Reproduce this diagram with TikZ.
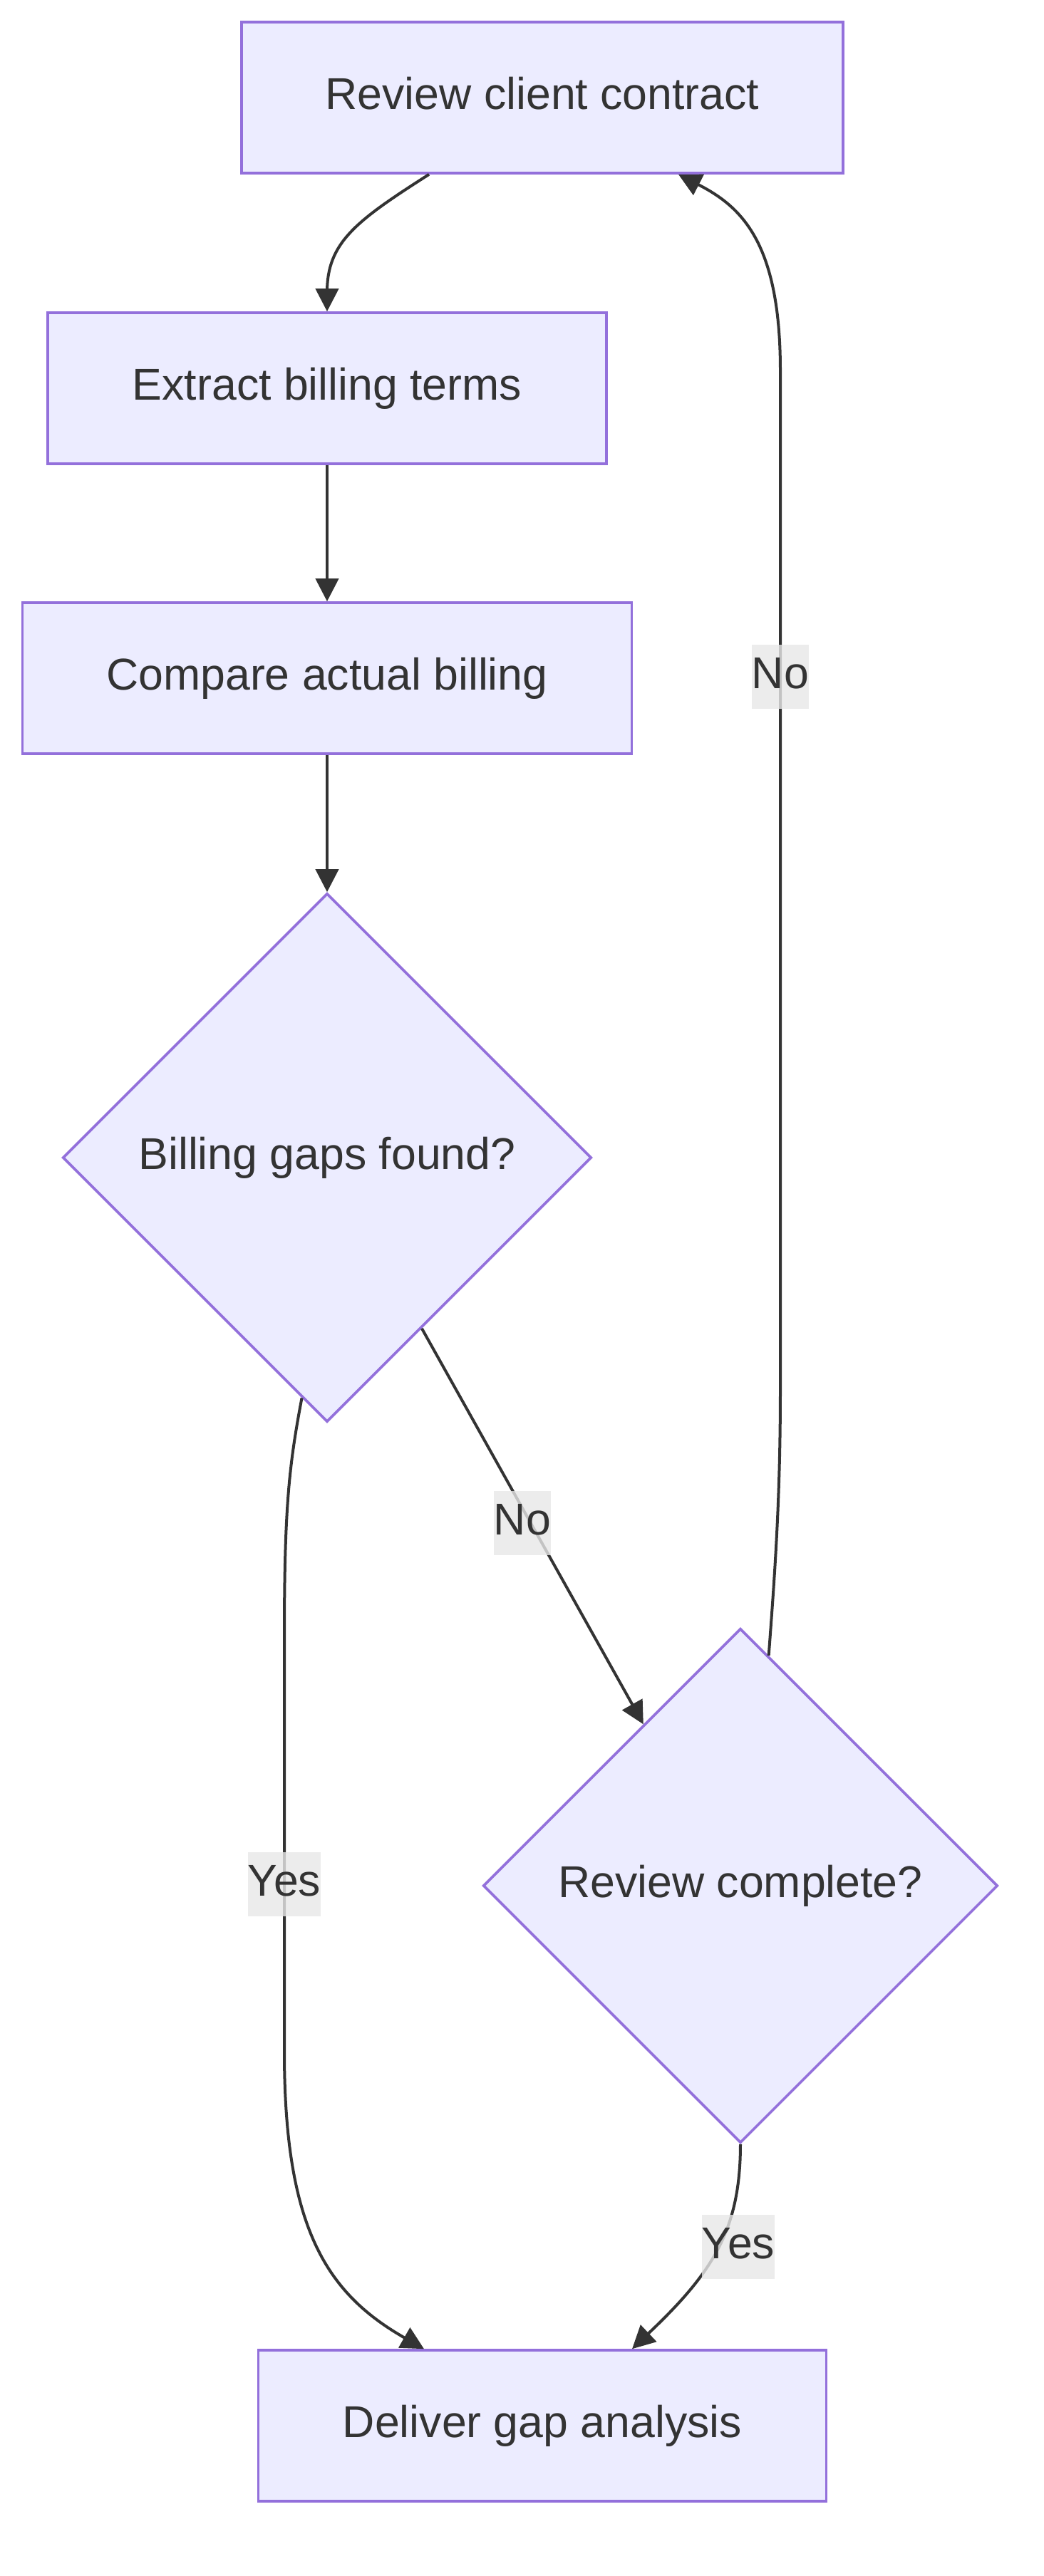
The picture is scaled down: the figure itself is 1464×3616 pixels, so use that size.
\documentclass[tikz,border=0pt]{standalone}
\usepackage{fontspec}
\setmainfont{Liberation Sans}
\usetikzlibrary{shapes.geometric,arrows.meta,calc}
\definecolor{nodefill}{HTML}{ECECFF}
\definecolor{nodeline}{HTML}{9370DB}
\definecolor{ink}{HTML}{333333}
\definecolor{lblbg}{HTML}{E8E8E8}
\begin{document}
\begin{tikzpicture}[x=0.5pt,y=-0.5pt,
  txt/.style={text=ink, font=\fontsize{31.3pt}{37pt}\selectfont, text height=22.5pt, text depth=6.5pt},
  box/.style={txt, rectangle, draw=nodeline, fill=nodefill, line width=1.8pt, minimum height=106pt, inner sep=0pt},
  decision/.style={txt, diamond, aspect=1, draw=nodeline, fill=nodefill, line width=1.8pt, inner sep=0pt},
  edge/.style={draw=ink, line width=2pt, -{Triangle[length=16pt,width=16pt]}},
  lbl/.style={txt, fill=lblbg, fill opacity=0.8, text opacity=1, inner sep=0pt, minimum height=45pt}]
\fill[white] (0,0) rectangle (1464,3616);
\useasboundingbox (0,0) rectangle (1464,3616);

\node[box, minimum width=422pt] (A) at (761,137) {Review client contract};
\node[box, minimum width=392pt] (B) at (459,545) {Extract billing terms};
\node[box, minimum width=427.5pt] (C) at (459,952) {Compare actual billing};
\node[decision, minimum width=371pt, minimum height=371pt] (D1) at (459,1625) {Billing gaps found?};
\node[decision, minimum width=361pt, minimum height=361pt] (D2) at (1039,2647) {Review complete?};
\node[box, minimum width=398.5pt] (E) at (761,3405) {Deliver gap analysis};

\draw[edge] ($(A.south)+(-159,0)$) .. controls (500,310) and (459,340) .. (459,410) -- (B.north);
\draw[edge] (B.south) -- (C.north);
\draw[edge] (C.south) -- (D1.north);
\draw[edge] (D1.-61.8) -- (D2.121);
\draw[edge] (D1.-96.7) .. controls (405,2060) and (399,2120) .. (399,2300) -- (399,2880) .. controls (399,3130) and (460,3220) .. ($(E.north)+(-166,0)$);
\draw[edge] (D2.south) .. controls (1039,3130) and (1000,3190) .. ($(E.north)+(126,0)$);
\draw[edge] (D2.83.7) .. controls (1088,2200) and (1095,2100) .. (1095,1950) -- (1095,520) .. controls (1095,340) and (1040,290) .. ($(A.south)+(191,0)$);

\node[lbl] (l1) at (733,2138) {No};
\node[lbl] (l2) at (399,2645) {Yes};
\node[lbl] (l3) at (1095,950) {No};
\node[lbl] (l4) at (1036,3154) {Yes};
\end{tikzpicture}
\end{document}
